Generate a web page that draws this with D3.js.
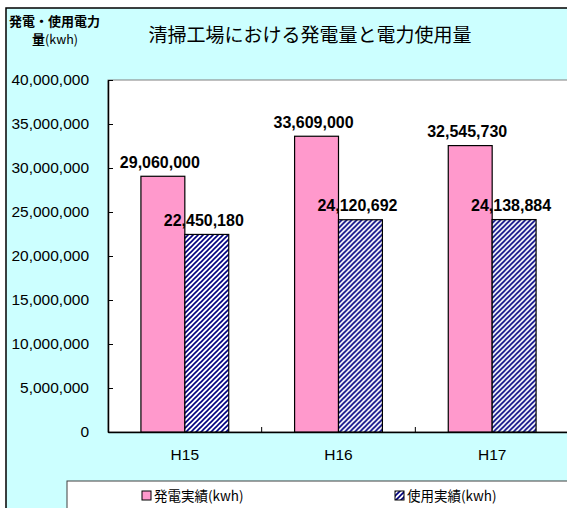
<!DOCTYPE html>
<html>
<head>
<meta charset="utf-8">
<script src="https://cdn.jsdelivr.net/npm/d3@7"></script>
<style>
  body { margin: 0; background: #fff; }
  svg { display: block; }
</style>
</head>
<body>
<div id="chart"></div>
<script>
// DATA
const categories = ['H15', 'H16', 'H17'];
const generated = [29060000, 33609000, 32545730];
const used = [22450180, 24120692, 24138884];
const seriesNames = ['発電実績(kwh)', '使用実績(kwh)'];
const yTicks = [0, 5000000, 10000000, 15000000, 20000000, 25000000, 30000000, 35000000, 40000000];
const chartTitle = '清掃工場における発電量と電力使用量';

const rows = categories.map((c, i) => ({ cat: c, values: [generated[i], used[i]] }));

const width = 567;
const height = 508;
const plot = { left: 108, top: 80, right: 569, bottom: 432 };
const numFont = '"Liberation Sans", Arial, sans-serif';
const jpFont = '"Noto Sans CJK JP", sans-serif';
const pink = '#FF99CC';
const navy = '#000080';

const svg = d3.select('#chart')
  .append('svg')
  .attr('width', width)
  .attr('height', height);

// hatch pattern for the second series
const defs = svg.append('defs');
const pat = defs.append('pattern')
  .attr('id', 'hatch')
  .attr('patternUnits', 'userSpaceOnUse')
  .attr('width', 5)
  .attr('height', 5);
pat.append('rect').attr('width', 5).attr('height', 5).attr('fill', '#fff');
pat.append('path')
  .attr('d', 'M-1,1 l2,-2 M0,5 l5,-5 M4,6 l2,-2')
  .attr('stroke', navy)
  .attr('stroke-width', 1.6);

const fills = [pink, 'url(#hatch)'];

// chart area background
svg.append('rect')
  .attr('x', 6).attr('y', 8)
  .attr('width', 700).attr('height', 700)
  .attr('fill', '#CCFFFF')
  .attr('stroke', '#000')
  .attr('stroke-width', 1.5);

// plot area
svg.append('rect')
  .attr('x', plot.left).attr('y', plot.top)
  .attr('width', 500).attr('height', plot.bottom - plot.top)
  .attr('fill', '#fff')
  .attr('stroke', '#808080');

// SCALES
const x = d3.scaleBand()
  .domain(categories)
  .range([plot.left, plot.right])
  .paddingInner(0).paddingOuter(0);
const xSub = d3.scaleBand()
  .domain([0, 1])
  .range([0, x.bandwidth()])
  .paddingInner(0)
  .paddingOuter(0.75);
const y = d3.scaleLinear().domain([0, 40000000]).range([plot.bottom, plot.top]);

// Y AXIS
const yAxis = d3.axisLeft(y)
  .tickValues(yTicks)
  .tickFormat(d3.format(','))
  .tickSizeInner(-5)
  .tickSizeOuter(0)
  .tickPadding(19);
const yg = svg.append('g')
  .attr('transform', `translate(${plot.left},0)`)
  .call(yAxis);
yg.select('.domain').attr('stroke', '#000').attr('stroke-width', 1.5);
yg.selectAll('.tick line').attr('stroke', '#000');
yg.selectAll('.tick text')
  .style('font-family', numFont)
  .style('font-size', '15.5px')
  .attr('fill', '#000');

// X AXIS
const xAxis = d3.axisBottom(x).tickSize(0).tickPadding(17);
const xg = svg.append('g')
  .attr('transform', `translate(0,${plot.bottom})`)
  .call(xAxis);
xg.select('.domain').attr('stroke', '#000').attr('stroke-width', 1.5);
xg.selectAll('.tick text')
  .style('font-family', numFont)
  .style('font-size', '15.5px')
  .attr('fill', '#000');

// tick marks between categories
svg.selectAll('.xtick')
  .data(categories.slice(1))
  .enter()
  .append('line')
  .attr('class', 'xtick')
  .attr('x1', (d) => x(d)).attr('x2', (d) => x(d))
  .attr('y1', plot.bottom).attr('y2', plot.bottom - 5)
  .attr('stroke', '#000');

// BARS
const group = svg.selectAll('.group')
  .data(rows)
  .enter()
  .append('g')
  .attr('class', 'group')
  .attr('transform', (d) => `translate(${x(d.cat)},0)`);

group.selectAll('rect')
  .data((d) => d.values.map((v, i) => ({ v, i })))
  .enter()
  .append('rect')
  .attr('x', (d) => xSub(d.i))
  .attr('y', (d) => y(d.v))
  .attr('width', xSub.bandwidth())
  .attr('height', (d) => y(0) - y(d.v))
  .attr('fill', (d) => fills[d.i])
  .attr('stroke', '#000')
  .attr('stroke-width', 1.2);

// value labels
group.selectAll('text.val')
  .data((d) => d.values.map((v, i) => ({ v, i })))
  .enter()
  .append('text')
  .attr('class', 'val')
  .attr('x', (d) => xSub(d.i) + xSub.bandwidth() / 2 - 3)
  .attr('y', (d) => y(d.v) - 8.5)
  .attr('text-anchor', 'middle')
  .style('font-family', numFont)
  .style('font-size', '16px')
  .style('font-weight', 'bold')
  .text((d) => d3.format(',')(d.v));

// TITLE
svg.append('text')
  .attr('x', 310).attr('y', 42)
  .attr('text-anchor', 'middle')
  .style('font-family', jpFont)
  .style('font-size', '19px')
  .text(chartTitle);

// y axis title
svg.append('text')
  .attr('x', 9).attr('y', 26)
  .style('font-family', jpFont)
  .style('font-size', '13px')
  .style('font-weight', 'bold')
  .text('発電・使用電力');
const yt2 = svg.append('text')
  .attr('x', 32).attr('y', 44)
  .style('font-family', jpFont)
  .style('font-size', '13px')
  .style('font-weight', 'bold');
yt2.append('tspan').text('量');
yt2.append('tspan').style('font-size', '12.5px').style('font-weight', 'normal').text('(kwh)');

// LEGEND
svg.append('rect')
  .attr('x', 67).attr('y', 481)
  .attr('width', 600).attr('height', 100)
  .attr('fill', '#fff')
  .attr('stroke', '#404040');

const legendX = [142, 395];
const leg = svg.selectAll('.leg')
  .data(seriesNames)
  .enter()
  .append('g')
  .attr('class', 'leg')
  .attr('transform', (d, i) => `translate(${legendX[i]},491)`);
leg.append('rect')
  .attr('width', 9).attr('height', 9)
  .attr('fill', (d, i) => fills[i])
  .attr('stroke', '#000');
leg.append('text')
  .attr('x', 12).attr('y', 10)
  .style('font-family', jpFont)
  .style('font-size', '13.5px')
  .text((d) => d);
</script>
</body>
</html>
